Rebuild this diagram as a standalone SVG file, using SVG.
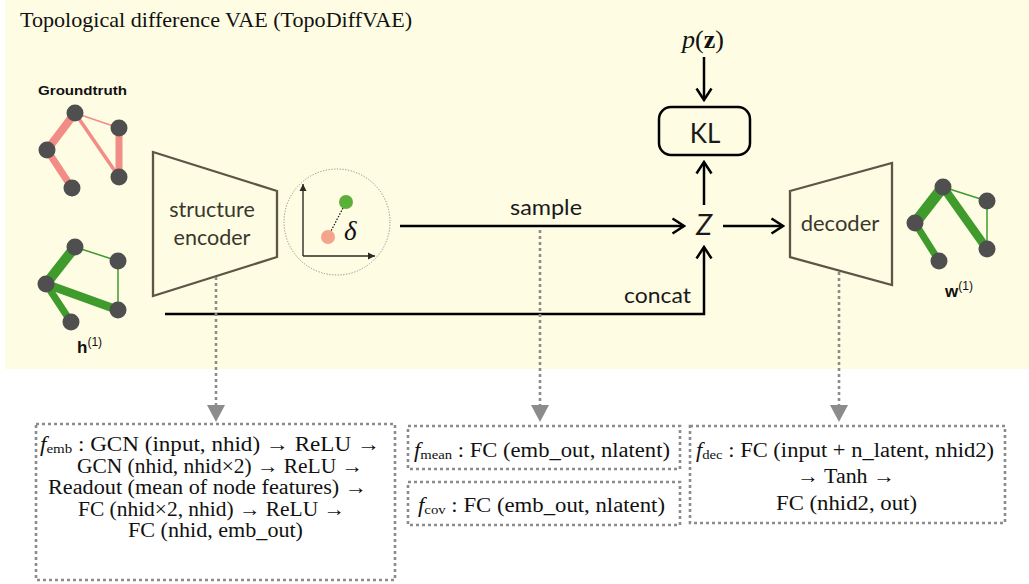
<svg xmlns="http://www.w3.org/2000/svg" width="1029" height="584" viewBox="0 0 1029 584">
<style>
.bg{fill:#fefce3}
.nd{fill:#4f4f4f}
.re{stroke:#f28c86;stroke-linecap:round;fill:none}
.ge{stroke:#3f9c2c;stroke-linecap:round;fill:none}
.trap{fill:none;stroke:#5b5646;stroke-width:2.3;stroke-linejoin:miter}
.lbl{font-family:Lato,"Open Sans","Liberation Sans",sans-serif;fill:#1a1a1a}
.tl{font-family:Lato,"Open Sans","Liberation Sans",sans-serif;fill:#3a372c}
.ser{font-family:"Liberation Serif","Times New Roman",serif;fill:#111}
.conn{stroke:#000;stroke-width:2.5;fill:none}
.dot{stroke:#8c8c8c;stroke-width:2.6;stroke-dasharray:3 3;fill:none}
.dbox{stroke:#8c8c8c;stroke-width:2.6;stroke-dasharray:3 3;fill:none}
.tri{fill:#8c8c8c}
.bold{font-family:"Liberation Sans",Arial,sans-serif;font-weight:bold;fill:#111}
</style>
<defs>
<marker id="chev" markerUnits="userSpaceOnUse" viewBox="-14 -9 16 18" refX="0" refY="0" markerWidth="16" markerHeight="18" orient="auto">
<path d="M-11.5,-7.5 L0,0 L-11.5,7.5" fill="none" stroke="#000" stroke-width="2.5" stroke-linejoin="miter"/>
</marker>
<marker id="small" markerUnits="userSpaceOnUse" viewBox="-8 -5 9 10" refX="0" refY="0" markerWidth="9" markerHeight="10" orient="auto">
<path d="M-7,-3.5 L0,0 L-7,3.5 Z" fill="#2b2b24"/>
</marker>
</defs>
<rect class="bg" x="5" y="0" width="1024" height="369"/>
<text class="ser" x="20" y="27" font-size="21" textLength="392" lengthAdjust="spacingAndGlyphs">Topological difference VAE (TopoDiffVAE)</text>

<g id="groundtruth">
<text class="bold" x="38" y="95" font-size="13.5" textLength="89" lengthAdjust="spacingAndGlyphs">Groundtruth</text>
<line class="re" x1="75" y1="113" x2="47" y2="150" stroke-width="8"/>
<line class="re" x1="47" y1="150" x2="72" y2="188" stroke-width="7"/>
<line class="re" x1="75" y1="113" x2="119" y2="177" stroke-width="3.5"/>
<line class="re" x1="119" y1="128" x2="119" y2="177" stroke-width="7"/>
<line class="re" x1="75" y1="113" x2="119" y2="128" stroke-width="1.5"/>
<circle class="nd" cx="75" cy="113" r="8.5"/>
<circle class="nd" cx="119" cy="128" r="8.5"/>
<circle class="nd" cx="47" cy="150" r="8.5"/>
<circle class="nd" cx="72" cy="188" r="8.5"/>
<circle class="nd" cx="119" cy="177" r="8.5"/>
</g>

<g id="h1">
<line class="ge" x1="75" y1="247" x2="46" y2="284" stroke-width="10"/>
<line class="ge" x1="46" y1="284" x2="118" y2="310" stroke-width="8.5"/>
<line class="ge" x1="46" y1="284" x2="71" y2="322" stroke-width="7"/>
<line class="ge" x1="75" y1="247" x2="118" y2="261" stroke-width="1.5"/>
<line class="ge" x1="118" y1="261" x2="118" y2="310" stroke-width="1.5"/>
<circle class="nd" cx="75" cy="247" r="8.5"/>
<circle class="nd" cx="118" cy="261" r="8.5"/>
<circle class="nd" cx="46" cy="284" r="8.5"/>
<circle class="nd" cx="71" cy="322" r="8.5"/>
<circle class="nd" cx="118" cy="310" r="8.5"/>
<text class="bold" x="77" y="353" font-size="17">h<tspan font-weight="normal" font-size="12" dy="-7">(1)</tspan></text>
</g>

<g id="encoder">
<polygon class="trap" points="153,152 277,191 277,257 153,296"/>
<text class="tl" x="212" y="217" font-size="21.5" text-anchor="middle">structure</text>
<text class="tl" x="212" y="245" font-size="21.5" text-anchor="middle">encoder</text>
</g>

<g id="latent">
<circle cx="337" cy="222" r="53" fill="none" stroke="#8c8c8c" stroke-width="1" stroke-dasharray="1.2 1.6"/>
<line x1="303" y1="256" x2="303" y2="184" stroke="#2b2b24" stroke-width="1.4" marker-end="url(#small)"/>
<line x1="303" y1="256" x2="375" y2="256" stroke="#2b2b24" stroke-width="1.4" marker-end="url(#small)"/>
<line x1="343" y1="208" x2="331" y2="231" stroke="#222" stroke-width="1.3" stroke-dasharray="1.5 1.5"/>
<circle cx="346" cy="202" r="7" fill="#5bb03a"/>
<circle cx="328" cy="237" r="7" fill="#f4a48a"/>
<text class="ser" x="344" y="240" font-size="27" font-style="italic">δ</text>
</g>

<g id="kl">
<rect x="659" y="107" width="91" height="48" rx="12" fill="none" stroke="#000" stroke-width="2.5"/>
<text class="lbl" x="705" y="143" font-size="26" text-anchor="middle">KL</text>
</g>

<g id="pz">
<text class="ser" x="703" y="48" font-size="26" text-anchor="middle"><tspan font-style="italic">p</tspan>(<tspan font-weight="bold">z</tspan>)</text>
</g>

<g id="z">
<text class="lbl" x="704" y="235" font-size="29" font-style="italic" text-anchor="middle">Z</text>
</g>

<g id="decoder">
<polygon class="trap" points="790,191 892,163 892,285 790,257"/>
<text class="tl" x="840" y="231" font-size="22" text-anchor="middle">decoder</text>
</g>

<g id="w1">
<line class="ge" x1="943" y1="187" x2="915" y2="223" stroke-width="11"/>
<line class="ge" x1="915" y1="223" x2="939" y2="261" stroke-width="7"/>
<line class="ge" x1="943" y1="187" x2="987" y2="249" stroke-width="8.5"/>
<line class="ge" x1="943" y1="187" x2="987" y2="201" stroke-width="1.5"/>
<line class="ge" x1="987" y1="201" x2="987" y2="249" stroke-width="1.5"/>
<circle class="nd" cx="943" cy="187" r="8.5"/>
<circle class="nd" cx="987" cy="201" r="8.5"/>
<circle class="nd" cx="915" cy="223" r="8.5"/>
<circle class="nd" cx="939" cy="261" r="8.5"/>
<circle class="nd" cx="987" cy="249" r="8.5"/>
<text class="bold" x="945" y="297" font-size="17">w<tspan font-weight="normal" font-size="12" dy="-7">(1)</tspan></text>
</g>

<g id="connectors">
<path class="conn" d="M400,226 H684" marker-end="url(#chev)"/>
<text class="lbl" x="546" y="215" font-size="22" text-anchor="middle" textLength="72" lengthAdjust="spacingAndGlyphs">sample</text>
<path class="conn" d="M723,226 H783" marker-end="url(#chev)"/>
<path class="conn" d="M704,205 V162" marker-end="url(#chev)"/>
<path class="conn" d="M704,57 V100" marker-end="url(#chev)"/>
<path class="conn" d="M165,314 H704 V247" marker-end="url(#chev)"/>
<text class="lbl" x="624" y="303" font-size="22" textLength="67" lengthAdjust="spacingAndGlyphs">concat</text>
<line class="dot" x1="216" y1="277" x2="216" y2="406"/>
<polygon class="tri" points="207,405 225,405 216,422"/>
<line class="dot" x1="540" y1="230" x2="540" y2="406"/>
<polygon class="tri" points="531,405 549,405 540,422"/>
<line class="dot" x1="839" y1="272" x2="839" y2="406"/>
<polygon class="tri" points="830,405 848,405 839,422"/>
</g>

<g id="box-emb">
<rect class="dbox" x="36" y="424" width="359" height="156"/>
<text class="ser" x="40" y="451" font-size="20" textLength="340" lengthAdjust="spacingAndGlyphs"><tspan font-style="italic">f</tspan><tspan font-size="13" dy="2">emb</tspan><tspan dy="-2"> : GCN (input, nhid)  → ReLU →</tspan></text>
<text class="ser" x="77" y="472.5" font-size="20" textLength="286" lengthAdjust="spacingAndGlyphs">GCN (nhid, nhid×2) → ReLU →</text>
<text class="ser" x="48" y="494" font-size="20" textLength="319" lengthAdjust="spacingAndGlyphs">Readout (mean of node features) →</text>
<text class="ser" x="78" y="515.5" font-size="20" textLength="267" lengthAdjust="spacingAndGlyphs">FC (nhid×2, nhid) → ReLU →</text>
<text class="ser" x="128" y="537" font-size="20" textLength="175" lengthAdjust="spacingAndGlyphs">FC (nhid, emb_out)</text>
</g>

<g id="box-mean">
<rect class="dbox" x="408" y="426" width="272" height="43"/>
<text class="ser" x="414" y="457" font-size="20" textLength="256" lengthAdjust="spacingAndGlyphs"><tspan font-style="italic">f</tspan><tspan font-size="13" dy="2">mean</tspan><tspan dy="-2"> : FC (emb_out, nlatent)</tspan></text>
</g>

<g id="box-cov">
<rect class="dbox" x="408" y="482" width="272" height="43"/>
<text class="ser" x="418" y="512" font-size="20" textLength="247" lengthAdjust="spacingAndGlyphs"><tspan font-style="italic">f</tspan><tspan font-size="13" dy="2">cov</tspan><tspan dy="-2"> : FC (emb_out, nlatent)</tspan></text>
</g>

<g id="box-dec">
<rect class="dbox" x="690" y="426" width="315" height="97"/>
<text class="ser" x="696" y="457" font-size="20" textLength="298" lengthAdjust="spacingAndGlyphs"><tspan font-style="italic">f</tspan><tspan font-size="13" dy="2">dec</tspan><tspan dy="-2"> : FC (input + n_latent, nhid2)</tspan></text>
<text class="ser" x="797" y="483" font-size="20" textLength="98" lengthAdjust="spacingAndGlyphs">→ Tanh →</text>
<text class="ser" x="776" y="510" font-size="20" textLength="141" lengthAdjust="spacingAndGlyphs">FC (nhid2,  out)</text>
</g>
</svg>
